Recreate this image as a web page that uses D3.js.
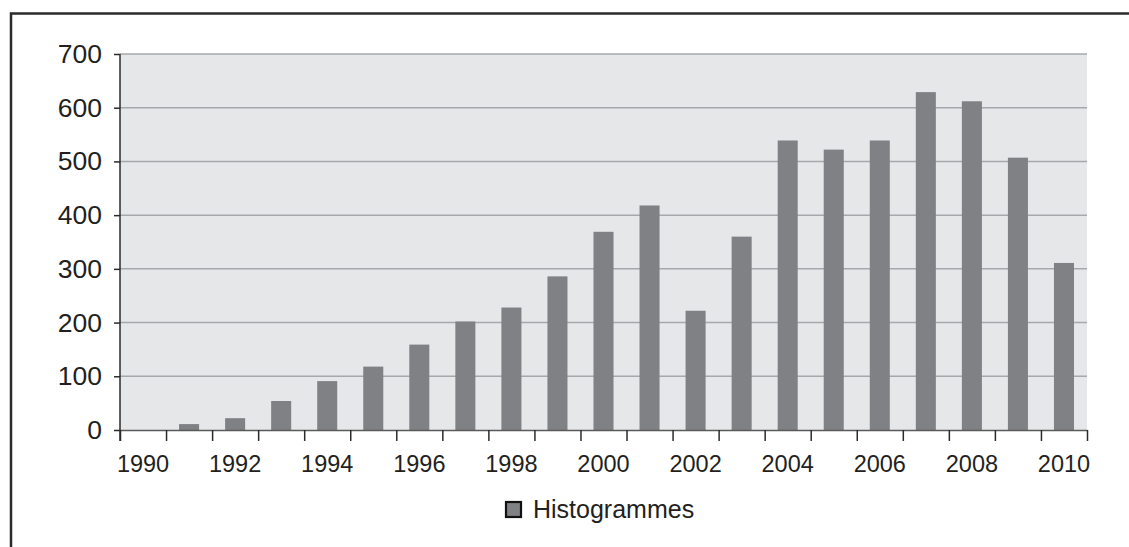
<!DOCTYPE html>
<html>
<head>
<meta charset="utf-8">
<script src="https://cdn.jsdelivr.net/npm/d3@7"></script>
<style>
  body { margin: 0; background: #fff; }
  svg { display: block; font-family: "Liberation Sans", Arial, sans-serif; }
</style>
</head>
<body>
<div id="chart"></div>
<script>
// values
var years = d3.range(1990, 2011);
var counts = [0, 11, 22, 54, 91, 118, 159, 202, 228, 286, 369, 418,
              222, 360, 539, 522, 539, 629, 612, 507, 311];
var yTicks = [0, 100, 200, 300, 400, 500, 600, 700];
var labelYears = [1990, 1992, 1994, 1996, 1998, 2000, 2002, 2004, 2006, 2008, 2010];
var seriesName = "Histogrammes";

var W = 1129, H = 547;
var margin = {top: 54, right: 42, bottom: 117, left: 120};
var width = W - margin.left - margin.right;
var height = H - margin.top - margin.bottom;

var svg = d3.select("#chart").append("svg")
    .attr("width", W).attr("height", H);

// outer frame (runs off right and bottom edge)
svg.append("rect")
    .attr("x", 11).attr("y", 13.5)
    .attr("width", W + 20).attr("height", H + 20)
    .attr("fill", "none").attr("stroke", "#2b2b2b").attr("stroke-width", 2.5);

var g = svg.append("g")
    .attr("transform", "translate(" + margin.left + "," + margin.top + ")");

var x = d3.scaleBand().domain(years).range([0, width])
    .paddingInner(0.565).paddingOuter(0.2825);
var xEdge = d3.scaleLinear().domain([0, years.length]).range([0, width]);
var y = d3.scaleLinear().domain([0, 700]).range([height, 0]);

// plot background
g.append("rect")
    .attr("width", width).attr("height", height)
    .attr("fill", "#e6e7e8");

// gridlines
g.selectAll(".grid").data(yTicks.filter(d => d > 0)).enter()
  .append("line")
    .attr("class", "grid")
    .attr("x1", 0).attr("x2", width)
    .attr("y1", d => y(d)).attr("y2", d => y(d))
    .attr("stroke", "#a6a8ab").attr("stroke-width", 1.5);

// bars
g.selectAll(".bar").data(counts).enter()
  .append("rect")
    .attr("class", "bar")
    .attr("x", (d, i) => x(years[i]))
    .attr("y", d => y(d))
    .attr("width", x.bandwidth())
    .attr("height", d => height - y(d))
    .attr("fill", "#808184");

// x axis: ticks on band edges
var xTickAxis = g.append("g")
    .attr("transform", "translate(0," + height + ")")
    .call(d3.axisBottom(xEdge).tickValues(d3.range(years.length + 1))
          .tickFormat("").tickSize(11).tickSizeOuter(0));
xTickAxis.select(".domain").attr("stroke", "#5a5a5a").attr("stroke-width", 1.5);
xTickAxis.selectAll(".tick line").attr("stroke", "#2b2b2b").attr("stroke-width", 1.5);

// x labels centred in bands
var xLabelAxis = g.append("g")
    .attr("transform", "translate(0," + height + ")")
    .call(d3.axisBottom(x).tickValues(labelYears).tickSize(0).tickPadding(25));
xLabelAxis.select(".domain").remove();
xLabelAxis.selectAll("text")
    .attr("font-size", "23.5px").attr("fill", "#231f20")
    .style("font-family", "Liberation Sans, Arial, sans-serif");

// y axis
var yAxis = g.append("g")
    .call(d3.axisLeft(y).tickValues(yTicks).tickSize(6).tickPadding(12).tickSizeOuter(0));
yAxis.select(".domain").attr("stroke", "#2b2b2b").attr("stroke-width", 1.5)
    .attr("d", "M0," + (height + 11) + "V0");
yAxis.selectAll(".tick line").attr("stroke", "#2b2b2b").attr("stroke-width", 1.5);
yAxis.selectAll("text")
    .attr("font-size", "26.5px").attr("fill", "#231f20")
    .style("font-family", "Liberation Sans, Arial, sans-serif");

// legend
var legend = svg.append("g").attr("transform", "translate(506,502)");
legend.append("rect")
    .attr("width", 15).attr("height", 15)
    .attr("fill", "#808184").attr("stroke", "#111").attr("stroke-width", 2.2);
legend.append("text")
    .attr("x", 27).attr("y", 16)
    .attr("font-size", "25px").attr("fill", "#231f20")
    .text(seriesName);
</script>
</body>
</html>
